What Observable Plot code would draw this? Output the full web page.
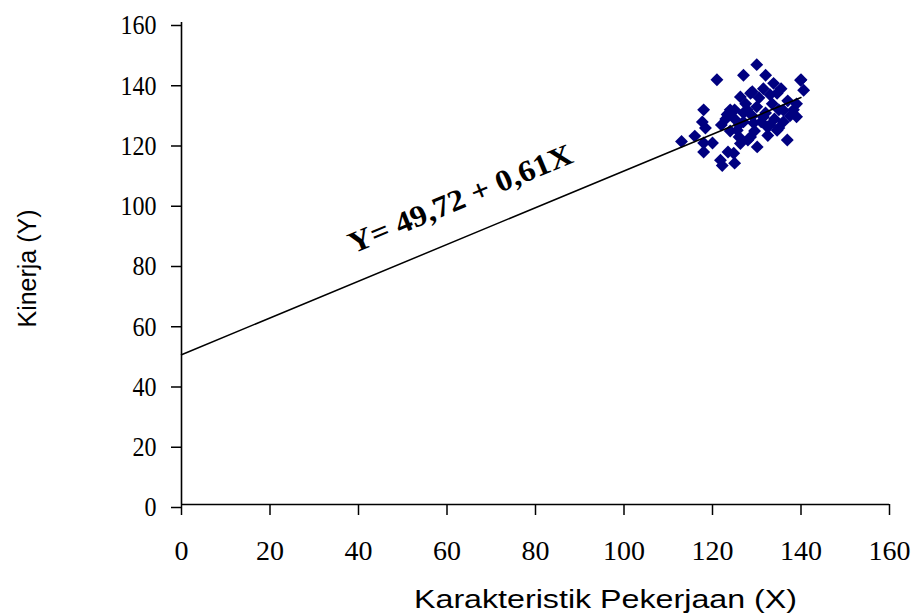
<!DOCTYPE html>
<html>
<head>
<meta charset="utf-8">
<script src="https://cdn.jsdelivr.net/npm/d3@7"></script>
<script src="https://cdn.jsdelivr.net/npm/@observablehq/plot@0.6"></script>
<style>
  html, body { margin: 0; padding: 0; background: #fff; }
</style>
</head>
<body>
<div id="chart"></div>
<script>
// Data
const karakteristikX = [113,116,118,117.7,118.4,118,118,120,121,121.8,122.2,123,123.3,123.5,124,124.8,125,125,125.6,126,126.3,126.3,127,127,127.5,127.8,128,128.6,128.6,129,129.3,129.5,130,130,130.1,130.5,131,131.5,131.5,132,132,132.4,132.5,133,133,133.5,133.8,134,134.6,134.6,135,135,135.5,136,136,136.9,137,137.5,138.3,139,139,139.9,140.6,140,129,127,125,122,124,126];
const kinerjaY = [120.5,122.3,131,127,125,120,117,120,141,114.3,112.5,128,129.5,117,124,116.6,113.3,131,124.2,126,135.3,119.8,142.5,127,133,131,121,136.5,122,129,126.6,124,146,132,118.7,135,127,128.6,138,142.5,130,125.3,122.5,136,126,133,139.8,128,136.5,124.2,131,125,138,130.9,127,121,134,129,131,128.7,133,140.8,137.5,141,137,130,128,126,131,122];
const xTicks = [0,20,40,60,80,100,120,140,160];
const yTicks = [0,20,40,60,80,100,120,140,160];
const intercept = 49.72;
const slope = 0.61;
const lineXRange = [0, 140];
const equationText = "Y= 49,72 + 0,61X";
const xTitle = "Karakteristik Pekerjaan (X)";
const yTitle = "Kinerja (Y)";

const points = karakteristikX.map((x, i) => ({x, y: kinerjaY[i]}));
const regLine = lineXRange.map(x => ({x, y: intercept + slope * x}));
const eqAnchorX = 63;
const serif = "'Liberation Serif', 'Times New Roman', serif";
const sans = "'Liberation Sans', Arial, sans-serif";

const chart = Plot.plot({
  width: 914,
  height: 616,
  marginLeft: 181,
  marginRight: 25,
  marginTop: 22,
  marginBottom: 112,
  x: {domain: [0, 160]},
  y: {domain: [0, 160]},
  style: {fontFamily: serif, fontSize: "28px", color: "#000", background: "#fff"},
  marks: [
    Plot.axisY({ticks: yTicks, tickSize: 10, tickPadding: 15, label: null, strokeWidth: 1.5, dy: 3, tickFormat: d => d}),
    Plot.axisX({ticks: xTicks, tickSize: 11, tickPadding: 25, label: null, strokeWidth: 1.5, tickFormat: d => d}),
    Plot.ruleX([0], {stroke: "#000", strokeWidth: 1.6}),
    Plot.ruleY([0], {stroke: "#000", strokeWidth: 1.6}),
    Plot.dot(points, {x: "x", y: "y", symbol: "diamond2", r: 5.8, fill: "#000080", stroke: "none"}),
    Plot.line(regLine, {x: "x", y: "y", stroke: "#000", strokeWidth: 1.5}),
    Plot.text([equationText], {x: () => eqAnchorX, y: () => intercept + slope * eqAnchorX, dy: -40, rotate: -22.5, fontWeight: "bold", fontSize: 30, fontFamily: serif, fill: "#000"}),
    Plot.text([xTitle], {frameAnchor: "middle", textAnchor: "middle", dx: 70, dy: 336, fontFamily: sans, fontSize: 26, fill: "#000"}),
    Plot.text([yTitle], {frameAnchor: "middle", textAnchor: "middle", rotate: -90, dx: -508, dy: 5, fontFamily: sans, fontSize: 25, fill: "#000"})
  ]
});

document.getElementById("chart").appendChild(chart);

function stretch(t, len) {
  t.setAttribute("textLength", len);
  t.setAttribute("lengthAdjust", "spacingAndGlyphs");
}
chart.querySelectorAll("text").forEach(t => {
  if (t.textContent === xTitle) stretch(t, 383);
  else if (t.textContent === equationText) stretch(t, 240);
});
chart.querySelectorAll('g[aria-label="y-axis tick label"], g[aria-label="x-axis tick label"]').forEach(g => {
  g.style.fontSize = "28px";
  g.setAttribute("font-size", 28);
  g.querySelectorAll("text").forEach(t => { t.style.fontSize = "28px"; t.style.fontFamily = serif; });
});
chart.querySelectorAll('g[aria-label="y-axis tick label"] text').forEach(t => {
  stretch(t, t.textContent.length * 12);
});
</script>
</body>
</html>
